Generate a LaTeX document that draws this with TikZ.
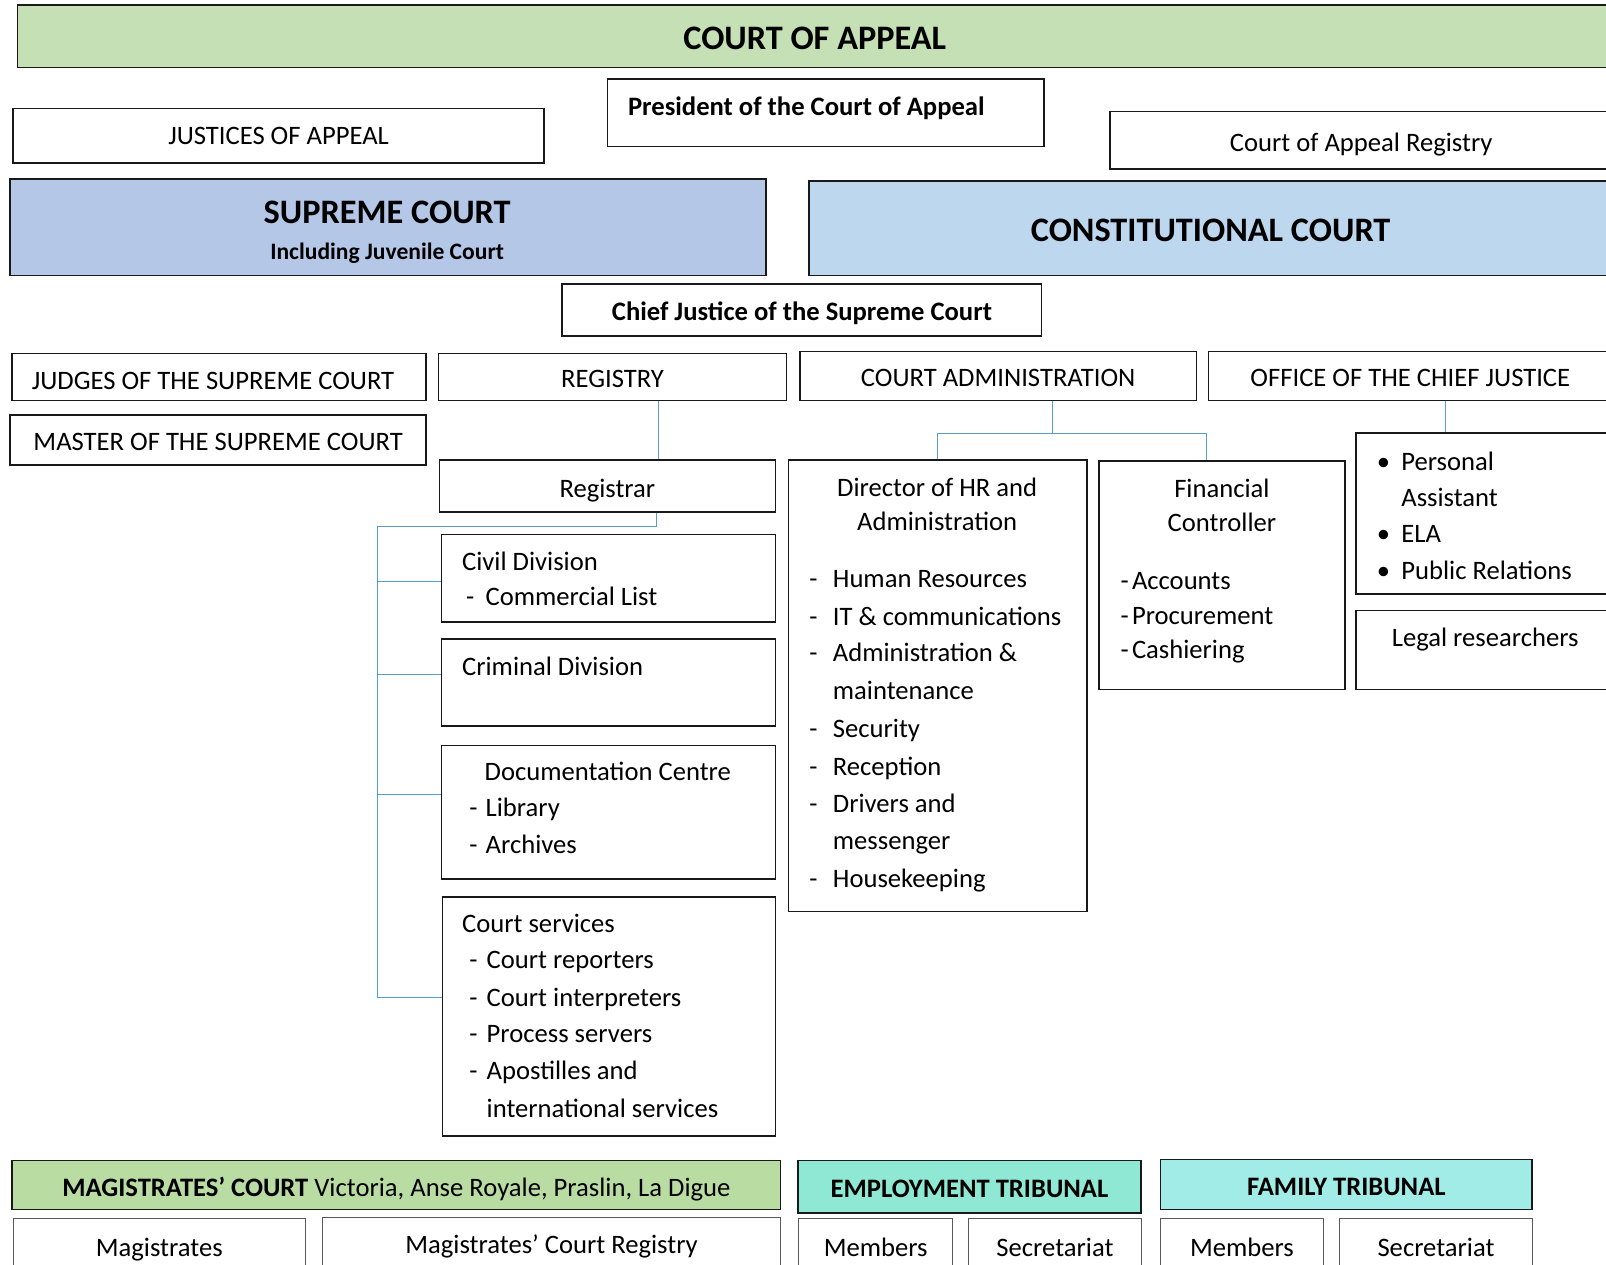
\documentclass[tikz,border=0pt]{standalone}
\usepackage{fontspec}
\setmainfont{Carlito}
\usetikzlibrary{calc}
\definecolor{appealgreen}{HTML}{C5E0B4}
\definecolor{supremeblue}{HTML}{B4C7E7}
\definecolor{constblue}{HTML}{BDD7EE}
\definecolor{magigreen}{HTML}{B9DCA3}
\definecolor{employmint}{HTML}{8EE8D4}
\definecolor{familyaqua}{HTML}{A2ECE8}
\definecolor{linkblue}{HTML}{5B9BD5}
\def\courtbox[#1](#2)(#3,#4)(#5,#6)#7{\node[#1, minimum width={#5-#3}, minimum height={#6-#4}] (#2) at ({(#3+#5)/2},{(#4+#6)/2}) {#7};}

\begin{document}
\begin{tikzpicture}[x=1pt, y=-1pt,
    lbl/.style={inner sep=0pt, font=\fontsize{26}{31}\selectfont, text height=19.5pt, text depth=2.9pt},
    box/.style={lbl, draw=black!90, line width=1.6pt, text height=24.5pt},
    thinbox/.style={lbl, draw=black!65, line width=0.9pt},
    big/.style={font=\fontsize{33.5}{40}\selectfont\bfseries, text height=30pt, text depth=3.6pt},
    item/.style={lbl, anchor=west},
    link/.style={draw=linkblue, line width=1pt}]
    %%%%% START %%%%%
    \useasboundingbox (0,0) rectangle (1568,1235);
    \clip (0,0) rectangle (1568,1235);

    % court of appeal
    \courtbox[box,big,fill=appealgreen](appeal)(17,5)(1574,66){COURT OF APPEAL}
    \courtbox[box](president)(593,77)(1019,143){}
    \node[item, font=\fontsize{26}{31}\selectfont\bfseries] (presidenttext) at (613,104) {President of the Court of Appeal};
    \courtbox[box, text height=21pt](justices)(13,106)(531,159){JUSTICES OF APPEAL}
    \courtbox[box](appealreg)(1084,109)(1574,165){Court of Appeal Registry}

    % supreme and constitutional court
    \courtbox[box,fill=supremeblue](supreme)(10,175)(748,269){}
    \node[lbl,big] (supremetitle) at (378,205) {SUPREME COURT};
    \node[lbl, font=\fontsize{23}{28}\selectfont\bfseries] (juvenile) at (378,245) {Including Juvenile Court};
    \courtbox[box,big,fill=constblue](constitutional)(790,177)(1574,269){CONSTITUTIONAL COURT}
    \courtbox[box, font=\fontsize{26}{31}\selectfont\bfseries](chief)(549,277)(1017,328){Chief Justice of the Supreme Court}

    \courtbox[box](judges)(12,345)(416,391){}
    \node[lbl] (judgestext) at (208,372) {JUDGES OF THE SUPREME COURT};
    \courtbox[box](master)(10,405)(416,454){MASTER OF THE SUPREME COURT}
    \courtbox[box](registry)(428,345)(768,391){REGISTRY}
    \courtbox[box](courtadmin)(781,343)(1168,391){COURT ADMINISTRATION}
    \courtbox[box](ocj)(1180,343)(1574,391){OFFICE OF THE CHIEF JUSTICE}

    % registry branch
    \courtbox[box](registrar)(429,449)(757,500){Registrar}
    \courtbox[box](civil)(431,522)(757,607){}
    \node[item] (civilhead) at (451,549) {Civil Division};
    \node[item] (civildash) at (455,583) {-};
    \node[item] (civillist) at (474,583) {Commercial List};
    \courtbox[box](criminal)(431,624)(757,709){}
    \node[item] (criminalhead) at (451,651) {Criminal Division};
    \courtbox[box](docs)(431,728)(757,858){}
    \node[item] (docshead) at (473,754) {Documentation Centre};
    \foreach \y/\t [count=\i] in {789/Library, 825/Archives}{
      \node[item] (docsdash\i) at (458,\y) {-};
      \node[item] (docs\i) at (474,\y) {\t};
    }
    \courtbox[box](services)(432,876)(757,1109){}
    \node[item] (serviceshead) at (451,902) {Court services};
    \foreach \y/\t/\d [count=\i] in {937/Court reporters/-, 974/Court interpreters/-, 1010/Process servers/-, 1046/Apostilles and/-, 1083/international services/{}}{
      \node[item] (servicesdash\i) at (458,\y) {\d};
      \node[item] (services\i) at (475,\y) {\t};
    }

    % administration branch
    \courtbox[box](director)(770,449)(1061,890){}
    \node[lbl] (directorhead1) at (915,476) {Director of HR and};
    \node[lbl] (directorhead2) at (915,510) {Administration};
    \foreach \y/\t/\d [count=\i] in {565/Human Resources/-, 602/IT \& communications/-, 638/Administration \&/-, 675/maintenance/{}, 712/Security/-, 749/Reception/-, 785/Drivers and/-, 821/messenger/{}, 858/Housekeeping/-}{
      \node[item] (hrdash\i) at (790,\y) {\d};
      \node[item] (hr\i) at (813,\y) {\t};
    }
    \courtbox[box](finance)(1073,450)(1313,673){}
    \node[lbl] (financehead1) at (1193,477) {Financial};
    \node[lbl] (financehead2) at (1193,511) {Controller};
    \foreach \y/\t [count=\i] in {567/Accounts, 601/Procurement, 635/Cashiering}{
      \node[item] (findash\i) at (1094,\y) {-};
      \node[item] (fin\i) at (1105,\y) {\t};
    }

    % office of the chief justice
    \courtbox[box](staff)(1324,423)(1574,580){}
    \foreach \y/\t/\d [count=\i] in {451/Personal/\textbullet, 486/Assistant/{}, 521/ELA/\textbullet, 557/Public Relations/\textbullet}{
      \node[item] (staffdot\i) at (1344,\y) {\d};
      \node[item] (staff\i) at (1368,\y) {\t};
    }
    \courtbox[box](legal)(1324,596)(1574,673){}
    \node[lbl] (legaltext) at (1450,623) {Legal researchers};

    % connectors
    \coordinate (regx) at (643,0);
    \coordinate (trunk) at (369,514);
    \draw[link] (registry.south -| regx) -- (registrar.north -| regx);
    \draw[link] (registrar.south -| 641,0) -- (641,514) -- (trunk) -- (369,974);
    \coordinate (civilin) at (431,568);
    \coordinate (criminalin) at (431,659);
    \coordinate (docsin) at (431,776);
    \coordinate (servicesin) at (432,974);
    \foreach \b in {civilin, criminalin, docsin, servicesin}
      \draw[link] (trunk |- \b) -- (\b);
    \coordinate (adminbus) at (1028,423);
    \coordinate (finx) at (1178,423);
    \draw[link] (courtadmin.south -| adminbus) -- (adminbus);
    \draw[link] (director.north) |- (finx) -- (finx |- finance.north);
    \coordinate (ocjx) at (1411,0);
    \draw[link] (ocj.south -| ocjx) -- (staff.north -| ocjx);

    % magistrates and tribunals
    \courtbox[box,fill=magigreen](magistrates)(12,1133)(762,1181){\textbf{MAGISTRATES’ COURT} Victoria, Anse Royale, Praslin, La Digue}
    \courtbox[box,fill=employmint,font=\fontsize{26}{31}\selectfont\bfseries](employment)(779,1133)(1114,1184){EMPLOYMENT TRIBUNAL}
    \courtbox[box,fill=familyaqua,font=\fontsize{26}{31}\selectfont\bfseries](family)(1133,1132)(1496,1181){FAMILY TRIBUNAL}
    \courtbox[thinbox](magibench)(13,1190)(298,1246){Magistrates}
    \courtbox[thinbox](magireg)(315,1189)(762,1243){Magistrates’ Court Registry}
    \courtbox[thinbox](empmembers)(780,1190)(930,1246){Members}
    \courtbox[thinbox](empsecretariat)(946,1190)(1114,1246){Secretariat}
    \courtbox[thinbox](fammembers)(1133,1190)(1292,1246){Members}
    \courtbox[thinbox](famsecretariat)(1308,1190)(1496,1246){Secretariat}

    %%%%% END %%%%%
\end{tikzpicture}
\end{document}
